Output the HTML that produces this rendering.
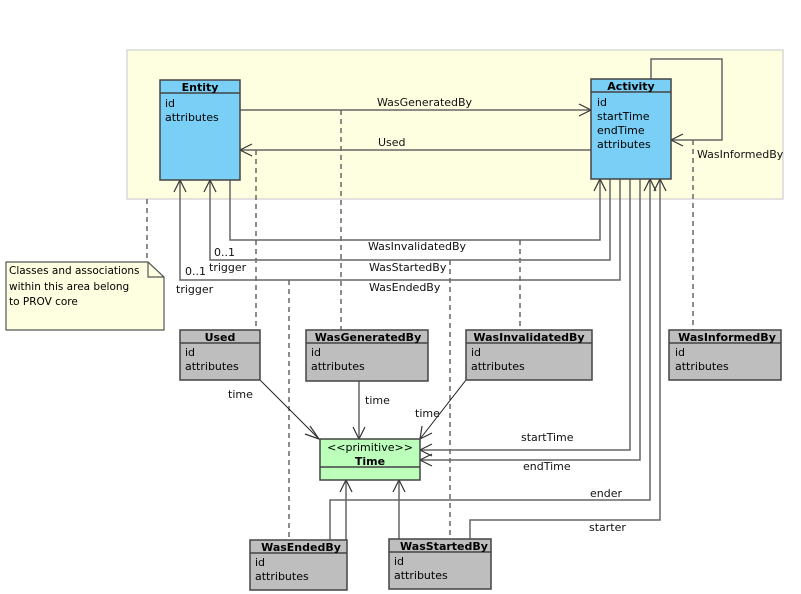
<!DOCTYPE html>
<html><head><meta charset="utf-8"><style>
html,body{margin:0;padding:0;background:#fff;}
svg{display:block;font-family:"DejaVu Sans","Liberation Sans",sans-serif;}
</style></head><body>
<svg width="801" height="594" viewBox="0 0 801 594" xmlns="http://www.w3.org/2000/svg">
<rect x="0" y="0" width="801" height="594" fill="#fff"/>
<rect x="127" y="50" width="656" height="149" fill="#fefee0" stroke="#d8d8d8" stroke-width="1.5"/>

<!-- dashed lines -->
<g stroke="#666" stroke-width="1.5" stroke-dasharray="5,4" fill="none">
<line x1="341" y1="110" x2="341" y2="330"/>
<line x1="256" y1="150" x2="256" y2="330"/>
<line x1="520" y1="240" x2="520" y2="330"/>
<line x1="693" y1="140" x2="693" y2="330"/>
<line x1="289" y1="280" x2="289" y2="540"/>
<line x1="450" y1="260" x2="450" y2="539"/>
<line x1="147" y1="199" x2="147" y2="262"/>
</g>

<!-- solid connectors -->
<g stroke="#666" stroke-width="1.5" fill="none">
<line x1="240" y1="110" x2="591" y2="110"/>
<line x1="591" y1="150" x2="240" y2="150"/>
<polyline points="651,79 651,59 722,59 722,140 671,140"/>
<polyline points="230,180 230,240 600,240 600,179"/>
<polyline points="210,180 210,260 610,260 610,179"/>
<polyline points="180,180 180,280 620,280 620,179"/>
<polyline points="630,179 630,450 420,450"/>
<polyline points="640,179 640,460 420,460"/>
<polyline points="650,179 650,500 330,500 330,540"/>
<polyline points="660,179 660,520 470,520 470,539"/>
<line x1="359" y1="381" x2="359" y2="439"/>
<line x1="346" y1="540" x2="346" y2="480"/>
<line x1="399" y1="539" x2="399" y2="480"/>
</g>
<g stroke="#222" stroke-width="1" fill="none">
<line x1="260" y1="380" x2="319" y2="439"/>
<line x1="466" y1="380" x2="420" y2="439"/>
</g>

<!-- arrowheads -->
<g stroke="#333" stroke-width="1.2" fill="none">
<polyline points="579,104 591,110 579,116"/>
<polyline points="252,144 240,150 252,156"/>
<polyline points="683,134 671,140 683,146"/>
<polyline points="594,191 600,179 606,191"/>
<polyline points="644,191 650,179 656,191"/>
<polyline points="654,191 660,179 666,191"/>
<polyline points="204,192 210,180 216,192"/>
<polyline points="174,192 180,180 186,192"/>
<polyline points="432,444 420,450 432,456"/>
<polyline points="432,454 420,460 432,466"/>
<polyline points="353,427 359,439 365,427"/>
<polyline points="340,492 346,480 352,492"/>
<polyline points="393,492 399,480 405,492"/>
<polyline points="310,426 319,439 305,434"/>
<polyline points="422,426 420,439 432,433"/>
</g>

<!-- Entity -->
<rect x="160" y="80" width="80" height="100" fill="#79cff5" stroke="#444" stroke-width="1.5"/>
<line x1="160" y1="93" x2="240" y2="93" stroke="#444" stroke-width="1.5"/>
<text x="200" y="91" font-size="11" font-weight="bold" text-anchor="middle">Entity</text>
<text x="165" y="107" font-size="11">id</text>
<text x="165" y="121" font-size="11">attributes</text>

<!-- Activity -->
<rect x="591" y="79" width="80" height="100" fill="#79cff5" stroke="#444" stroke-width="1.5"/>
<line x1="591" y1="92" x2="671" y2="92" stroke="#444" stroke-width="1.5"/>
<text x="631" y="90" font-size="11" font-weight="bold" text-anchor="middle">Activity</text>
<text x="597" y="106" font-size="11">id</text>
<text x="597" y="120" font-size="11">startTime</text>
<text x="597" y="134" font-size="11">endTime</text>
<text x="597" y="148" font-size="11">attributes</text>

<!-- grey boxes -->
<g font-size="11">
<rect x="180" y="330" width="80" height="50" fill="#bebebe" stroke="#444" stroke-width="1.5"/>
<line x1="180" y1="343" x2="260" y2="343" stroke="#444" stroke-width="1.5"/>
<text x="220" y="341" font-weight="bold" text-anchor="middle">Used</text>
<text x="185" y="356">id</text><text x="185" y="370">attributes</text>

<rect x="306" y="330" width="122" height="51" fill="#bebebe" stroke="#444" stroke-width="1.5"/>
<line x1="306" y1="343" x2="428" y2="343" stroke="#444" stroke-width="1.5"/>
<text x="368" y="341" font-weight="bold" text-anchor="middle">WasGeneratedBy</text>
<text x="311" y="356">id</text><text x="311" y="370">attributes</text>

<rect x="466" y="330" width="126" height="50" fill="#bebebe" stroke="#444" stroke-width="1.5"/>
<line x1="466" y1="343" x2="592" y2="343" stroke="#444" stroke-width="1.5"/>
<text x="529" y="341" font-weight="bold" text-anchor="middle">WasInvalidatedBy</text>
<text x="471" y="356">id</text><text x="471" y="370">attributes</text>

<rect x="669" y="330" width="112" height="50" fill="#bebebe" stroke="#444" stroke-width="1.5"/>
<line x1="669" y1="343" x2="781" y2="343" stroke="#444" stroke-width="1.5"/>
<text x="727" y="341" font-weight="bold" text-anchor="middle">WasInformedBy</text>
<text x="675" y="356">id</text><text x="675" y="370">attributes</text>

<rect x="250" y="540" width="97" height="50" fill="#bebebe" stroke="#444" stroke-width="1.5"/>
<line x1="250" y1="553" x2="347" y2="553" stroke="#444" stroke-width="1.5"/>
<text x="301" y="551" font-weight="bold" text-anchor="middle">WasEndedBy</text>
<text x="255" y="566">id</text><text x="255" y="580">attributes</text>

<rect x="389" y="539" width="102" height="50" fill="#bebebe" stroke="#444" stroke-width="1.5"/>
<line x1="389" y1="552" x2="491" y2="552" stroke="#444" stroke-width="1.5"/>
<text x="444" y="550" font-weight="bold" text-anchor="middle">WasStartedBy</text>
<text x="394" y="565">id</text><text x="394" y="579">attributes</text>
</g>

<!-- Time -->
<rect x="320" y="439" width="100" height="41" fill="#bbffbb" stroke="#444" stroke-width="1.5"/>
<line x1="320" y1="467" x2="420" y2="467" stroke="#444" stroke-width="1.5"/>
<text x="370" y="451" font-size="11" text-anchor="middle">&lt;&lt;primitive&gt;&gt;</text>
<text x="370" y="465" font-size="11" font-weight="bold" text-anchor="middle">Time</text>

<!-- note -->
<path d="M6,262 L148,262 L164,277 L164,330 L6,330 Z" fill="#fefee0" stroke="#555" stroke-width="1.2"/>
<polyline points="148,262 148,277 164,277" fill="none" stroke="#555" stroke-width="1.2"/>
<g font-size="10.5">
<text x="9" y="274">Classes and associations</text>
<text x="9" y="290">within this area belong</text>
<text x="9" y="305">to PROV core</text>
</g>

<!-- labels -->
<g font-size="11" fill="#111">
<text x="377" y="106">WasGeneratedBy</text>
<text x="378" y="146">Used</text>
<text x="697" y="158">WasInformedBy</text>
<text x="368" y="250">WasInvalidatedBy</text>
<text x="369" y="271">WasStartedBy</text>
<text x="369" y="291">WasEndedBy</text>
<text x="214" y="256">0..1</text>
<text x="209" y="271">trigger</text>
<text x="185" y="275">0..1</text>
<text x="176" y="293">trigger</text>
<text x="228" y="398">time</text>
<text x="365" y="404">time</text>
<text x="415" y="417">time</text>
<text x="521" y="441">startTime</text>
<text x="523" y="470">endTime</text>
<text x="590" y="497">ender</text>
<text x="589" y="531">starter</text>
</g>
</svg>
</body></html>
